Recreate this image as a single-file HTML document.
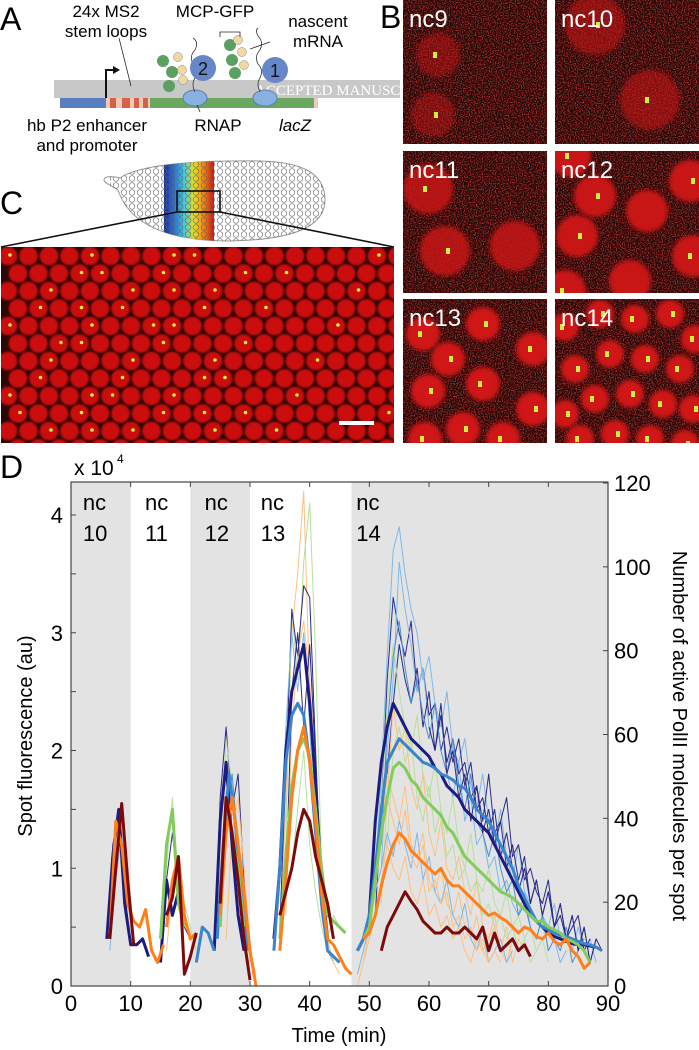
<!DOCTYPE html>
<html><head><meta charset="utf-8">
<style>
html,body{margin:0;padding:0;background:#fff;}
svg{display:block;font-family:"Liberation Sans",Arial,sans-serif;}
</style></head>
<body>
<svg id="fig" width="699" height="1050" viewBox="0 0 699 1050" xmlns="http://www.w3.org/2000/svg">
<defs>
  <filter id="speck" x="0" y="0" width="1" height="1">
    <feTurbulence type="fractalNoise" baseFrequency="0.85" numOctaves="1" seed="4"/>
    <feColorMatrix type="matrix" values="0 0 0 0 0.8  0 0 0 0 0.05  0 0 0 0 0.05  4 0 0 0 -1.75"/>
  </filter>
  <filter id="blur2"><feGaussianBlur stdDeviation="2"/></filter>
  <filter id="blur1"><feGaussianBlur stdDeviation="1"/></filter>
  <linearGradient id="rainbow" x1="0" x2="1" y1="0" y2="0">
    <stop offset="0" stop-color="#1a2a9a"/><stop offset="0.2" stop-color="#2a70d0"/>
    <stop offset="0.4" stop-color="#40c8e0"/><stop offset="0.6" stop-color="#e8e020"/>
    <stop offset="0.8" stop-color="#f08010"/><stop offset="1" stop-color="#d01010"/>
  </linearGradient>
  <pattern id="circ" width="8" height="7" patternUnits="userSpaceOnUse">
    <circle cx="4" cy="3.5" r="2.8" fill="none" stroke="#666" stroke-width="0.6"/>
  </pattern>
  <clipPath id="embclip"><path d="M118,190 C112,186 104,183 104,180 C104,176 112,176 120,178 C140,164 200,160 260,161 C300,162 325,172 325,200 C325,228 290,240 230,241 C170,241 130,226 118,190 Z"/></clipPath>
  <clipPath id="cclip"><rect x="1" y="247" width="393" height="196"/></clipPath>
  <clipPath id="plotclip"><rect x="71" y="482" width="537" height="504"/></clipPath>
</defs>

<!-- ================= Panel A ================= -->
<g>
  <text x="0" y="30" font-size="32">A</text>
  <text x="106" y="17" font-size="17" text-anchor="middle">24x MS2</text>
  <text x="106" y="37" font-size="17" text-anchor="middle">stem loops</text>
  <text x="215" y="17" font-size="17" text-anchor="middle">MCP-GFP</text>
  <text x="318" y="27" font-size="17" text-anchor="middle">nascent</text>
  <text x="318" y="47" font-size="17" text-anchor="middle">mRNA</text>
  <rect x="54" y="80" width="346" height="18" fill="#c8c8c8"/>
  <text x="255" y="95" font-size="15" fill="#fff" font-family="Liberation Serif,serif">ACCEPTED MANUSC</text>
  <line x1="119" y1="38" x2="131" y2="86" stroke="#222" stroke-width="0.8"/>
  <line x1="250" y1="49" x2="270" y2="42" stroke="#222" stroke-width="0.8"/>
  <path d="M106,98 V70 H116" fill="none" stroke="#111" stroke-width="2"/>
  <path d="M113,66 L120,70 L113,74 Z" fill="#111"/>
  <rect x="60" y="98" width="46" height="10" fill="#5a7fc0"/>
  <rect x="106" y="98" width="44" height="10" fill="#f0c8b8"/>
  <rect x="110" y="98" width="6" height="10" fill="#d86048"/><rect x="122" y="98" width="8" height="10" fill="#d86048"/>
  <rect x="134" y="98" width="5" height="10" fill="#d86048"/><rect x="143" y="98" width="5" height="10" fill="#d86048"/>
  <rect x="150" y="98" width="164" height="10" fill="#6aa860"/>
  <rect x="314" y="98" width="4" height="10" fill="#f0c8b8"/>
  <ellipse cx="195" cy="98" rx="12" ry="8" fill="#8ab0e0" stroke="#5a7fb0"/>
  <ellipse cx="265" cy="98" rx="12" ry="8" fill="#8ab0e0" stroke="#5a7fb0"/>
  <path d="M195,92 q-4,-8 0,-14 q4,-8 -2,-14 q-4,-8 2,-14 q4,-8 -2,-12" fill="none" stroke="#333" stroke-width="0.8"/>
  <path d="M260,92 q-4,-8 0,-14 q4,-8 -2,-14 q-4,-8 2,-14 q4,-8 -2,-14 q-3,-6 0,-8" fill="none" stroke="#333" stroke-width="0.8"/>
  <g>
    <circle cx="163" cy="61" r="6" fill="#5aa060"/><circle cx="172" cy="72" r="6" fill="#5aa060"/><circle cx="169" cy="86" r="6" fill="#5aa060"/>
    <circle cx="178" cy="57" r="4.5" fill="#f0d8a0" stroke="#888" stroke-width="0.5"/><circle cx="182" cy="70" r="4.5" fill="#f0d8a0" stroke="#888" stroke-width="0.5"/><circle cx="183" cy="80" r="4.5" fill="#f0d8a0" stroke="#888" stroke-width="0.5"/>
  </g>
  <g>
    <circle cx="230" cy="45" r="6" fill="#5aa060"/><circle cx="232" cy="60" r="6" fill="#5aa060"/><circle cx="235" cy="73" r="6" fill="#5aa060"/>
    <circle cx="238" cy="40" r="4.5" fill="#f0d8a0" stroke="#888" stroke-width="0.5"/><circle cx="242" cy="52" r="4.5" fill="#f0d8a0" stroke="#888" stroke-width="0.5"/><circle cx="244" cy="65" r="4.5" fill="#f0d8a0" stroke="#888" stroke-width="0.5"/>
  </g>
  <path d="M220,37 v-5 h20 v5" fill="none" stroke="#222" stroke-width="0.8"/>
  <circle cx="203" cy="68" r="13" fill="#6688c8"/>
  <text x="203" y="75" font-size="18" text-anchor="middle" fill="#111">2</text>
  <circle cx="275" cy="70" r="13" fill="#6688c8"/>
  <text x="275" y="77" font-size="18" text-anchor="middle" fill="#111">1</text>
  <line x1="197" y1="105" x2="200" y2="112" stroke="#222" stroke-width="0.8"/>
  <text x="87" y="131" font-size="17" text-anchor="middle">hb P2 enhancer</text>
  <text x="87" y="151" font-size="17" text-anchor="middle">and promoter</text>
  <text x="218" y="131" font-size="17" text-anchor="middle">RNAP</text>
  <text x="295" y="131" font-size="17" text-anchor="middle" font-style="italic">lacZ</text>
</g>

<!-- ================= Panel B ================= -->
<text x="380" y="28" font-size="32">B</text>
<g id="panelB"></g>

<!-- ================= Panel C ================= -->
<g>
  <text x="0" y="214" font-size="32">C</text>
  <g>
    <path d="M118,190 C112,186 104,183 104,180 C104,176 112,176 120,178 C140,164 200,160 260,161 C300,162 325,172 325,200 C325,228 290,240 230,241 C170,241 130,226 118,190 Z" fill="#fff" stroke="#999" stroke-width="1"/>
    <g clip-path="url(#embclip)">
      <rect x="164" y="160" width="50" height="85" fill="url(#rainbow)"/>
      <rect x="110" y="160" width="220" height="85" fill="url(#circ)"/>
    </g>
    <rect x="177" y="191" width="43" height="21" fill="none" stroke="#111" stroke-width="1.6"/>
    <line x1="177" y1="212" x2="1" y2="247" stroke="#111" stroke-width="1.6"/>
    <line x1="220" y1="212" x2="394" y2="247" stroke="#111" stroke-width="1.6"/>
  </g>
  <rect x="1" y="247" width="393" height="196" fill="#2a0806"/>
  <g id="cnuclei" clip-path="url(#cclip)"></g>
  <rect x="339" y="421" width="35" height="4" fill="#fff"/>
</g>

<!-- ================= Panel D ================= -->
<g id="panelD">
  <text x="0" y="478" font-size="32">D</text>
  <text x="74" y="475" font-size="21">x 10</text>
  <text x="117" y="463" font-size="12">4</text>
  <g id="bands"></g>
  <g id="series" clip-path="url(#plotclip)"></g>
  <g id="axes"></g>
  <text transform="translate(32,736) rotate(-90)" font-size="20" text-anchor="middle">Spot fluorescence (au)</text>
  <text transform="translate(673,736) rotate(90)" font-size="20" text-anchor="middle">Number of active PolII molecules per spot</text>
  <text x="339" y="1042" font-size="20" text-anchor="middle">Time (min)</text>
</g>
</svg>

<script>
// ---------------- Chart D data ----------------
const cycleBands = [[0,10],[20,30],[47,90]];
const cycleLabels = ["10","11","12","13","14"];
const cycleLabelTimes = [2,12.4,22.4,31.8,47.8];
const yTicks = [0,1,2,3,4];
const yMinorTicks = [0.5,1.5,2.5,3.5];
const y2Ticks = [0,20,40,60,80,100,120];
const xTicks = [0,10,20,30,40,50,60,70,80,90];

const navySegs = [
 [6,[0.4,1.1,1.5,0.7,0.35,0.35,0.4,0.25]],
 [15,[0.2,0.9,0.6,0.8]],
 [24,[0.3,1.4,1.9,1.2,0.6,0.3]],
 [34,[0.4,1.0,2.0,2.5,2.7,2.9,2.4,1.7,0.9,0.4]],
 [48,[0.3,0.4,0.6,1.4,1.9,2.2,2.4,2.3,2.2,2.1,2.05,2.0,1.95,1.85,1.8,1.7,1.65,1.6,1.5,1.45,1.4,1.35,1.3,1.2,1.1,1.0,0.9,0.8,0.7,0.6,0.55,0.5,0.45,0.42,0.4,0.38,0.36,0.35,0.35,0.34,0.33]]
];
const blueSegs = [
 [21,[0.2,0.5,0.45,0.3]],
 [24.5,[0.4,1.2,1.8,1.4,0.8,0.3]],
 [34,[0.3,1.0,1.9,2.3,2.4,2.3,1.9,1.3,0.7,0.3,0.25,0.2]],
 [48,[0.3,0.4,0.6,1.0,1.5,1.9,2.0,2.1,2.05,2.0,1.95,1.9,1.88,1.85,1.8,1.78,1.75,1.7,1.68,1.6,1.5,1.45,1.4,1.3,1.2,1.1,1.0,0.85,0.75,0.65,0.55,0.5,0.48,0.45,0.43,0.42,0.4,0.38,0.36,0.35,0.33,0.3]]
];
const greenSegs = [
 [15,[0.4,1.2,1.5,0.7,0.5]],
 [25,[0.5,1.6,1.3,1.0,0.5]],
 [35,[0.4,1.1,1.7,2.0,2.1,1.95,1.5,1.0,0.6,0.55,0.5,0.45]],
 [49,[0.4,0.5,0.9,1.3,1.6,1.85,1.9,1.85,1.75,1.7,1.6,1.55,1.5,1.45,1.35,1.3,1.2,1.1,1.05,1.0,0.95,0.9,0.85,0.8,0.78,0.75,0.7,0.65,0.6,0.55,0.55,0.5,0.48,0.45,0.4,0.38,0.35,0.3,0.2]]
];
const orangeSegs = [
 [6.5,[0.4,1.4,1.2,0.7,0.55,0.5,0.65,0.3,0.2,0.35]],
 [16,[0.5,0.9,1.1,0.6,0.4,0.45]],
 [25,[0.6,1.3,1.6,1.2,0.8,0.3,0.0]],
 [35,[0.3,0.9,1.6,2.0,2.2,1.9,1.4,0.8,0.4,0.35,0.25,0.15,0.1]],
 [49,[0.4,0.45,0.6,0.85,1.05,1.2,1.3,1.25,1.15,1.1,1.05,1.0,0.95,1.0,0.9,0.85,0.85,0.8,0.75,0.7,0.65,0.6,0.62,0.58,0.55,0.5,0.45,0.5,0.48,0.42,0.4,0.45,0.38,0.35,0.4,0.3,0.25,0.15,0.2]]
];
const redSegs = [
 [6.5,[0.4,1.0,1.55,0.9,0.35]],
 [16,[0.6,0.75,1.1,0.1,0.25,0.45]],
 [25,[0.7,1.6,1.3,0.9,0.4,0.05]],
 [35,[0.6,0.8,1.0,1.3,1.5,1.4,1.1,0.9,0.7,0.4]],
 [52,[0.3,0.5,0.6,0.7,0.8,0.72,0.65,0.55,0.5,0.45,0.45,0.5,0.45,0.45,0.5,0.45,0.4,0.5,0.3,0.45,0.3,0.35,0.4,0.3,0.35,0.25]]
];

const thinColors = ["#7fb8e8","#2a2a88","#b6e09c","#ffbf80","#4a8ed0"];
const thinTraceColor = [0,1,0,1,2,3,3,3,4,2,1,0,3, 3,2,1,0,3,1,2, 1,2,4,3, 2,1,3, 1,0];
const thinTraceStart = [50,51,52,53,51,50,49,52,52,53,60,48,48, 35,35,35,34,36,36,37, 24,24,25,26, 15,15,16, 6,6.5];
const thinTraceValues = [
 [0.4,0.9,1.8,2.8,3.7,3.9,3.5,3.2,3.0,2.6,2.8,2.4,2.2,2.5,2.0,1.9,2.1,1.7,1.5,1.8,1.4,1.2,1.5,1.1,0.9,1.2,0.8,0.7,0.9,0.6,0.5,0.7,0.4,0.5,0.3,0.5,0.3,0.4,0.2],
 [0.6,1.5,2.6,3.3,3.0,2.8,3.1,2.5,2.7,2.3,2.4,2.0,2.2,1.9,2.1,1.7,1.9,1.5,1.6,1.3,1.5,1.1,1.3,1.0,0.8,1.0,0.7,0.9,0.6,0.8,0.5,0.6,0.4,0.5,0.6,0.3,0.4],
 [1.0,2.0,2.6,3.6,3.2,2.9,2.5,2.7,2.2,2.0,2.3,1.8,1.6,1.9,1.4,1.6,1.2,1.3,1.0,1.1,0.8,0.9,0.7,0.6,0.8,0.5,0.4,0.6,0.3,0.4,0.2,0.3],
 [1.8,2.4,2.9,2.6,2.4,2.7,2.2,2.5,2.0,2.3,1.9,2.1,1.8,1.9,1.6,1.7,1.4,1.8,1.3,1.4,1.6,1.1,1.2,0.9,1.0,0.8,0.7,0.9,0.5,0.7,0.4,0.6,0.3,0.5,0.2,0.4],
 [0.8,1.5,2.4,2.9,2.5,2.2,2.0,2.3,1.8,1.6,1.9,1.5,1.3,1.6,1.2,1.0,1.3,0.9,0.8,1.0,0.7,0.6,0.8,0.5,0.6,0.4,0.5,0.3,0.4,0.2],
 [0.5,0.8,1.3,1.8,1.6,1.4,1.7,1.2,1.1,1.3,0.9,0.8,1.0,0.7,0.6,0.8,0.5,0.4,0.6,0.3,0.4,0.5,0.3,0.2,0.4],
 [0.2,0.4,0.6,0.9,1.2,1.0,0.9,1.1,0.8,0.7,0.9,0.6,0.7,0.5,0.6,0.4,0.5,0.3,0.2,0.4,0.3,0.2,0.3],
 [0.7,1.6,2.4,2.0,2.2,1.7,1.5,1.8,1.3,1.1,1.4,1.0,0.9,1.1,0.8,0.6,0.9,0.5,0.4,0.6,0.3,0.5,0.2,0.4,0.3],
 [1.2,2.2,2.8,3.1,2.7,2.4,2.6,2.3,2.1,2.4,2.0,1.8,2.1,1.7,1.5,1.8,1.4,1.3,1.1,1.3,1.0,0.8,0.9,0.6,0.7,0.5,0.4,0.6,0.3,0.4,0.3,0.5,0.2,0.3,0.4],
 [1.2,2.0,2.2,1.9,2.1,1.6,1.4,1.7,1.3,1.5,1.1,1.2,0.9,1.0,0.8,0.9,0.6,0.7,0.5,0.6,0.4,0.5,0.3,0.4,0.2,0.3],
 [2.2,2.0,2.4,1.8,2.0,1.6,1.8,1.4,1.7,1.3,1.5,1.2,1.4,1.0,1.2,0.9,1.1,0.7,0.9,0.6,0.8,0.5,0.7,0.4,0.6,0.3,0.5,0.2,0.4,0.3],
 [0.1,0.3,0.5,0.8,1.0,1.3,1.1,1.4,1.2,1.0,1.3,0.9,1.1,0.8,0.7,0.9,0.6,0.5,0.7,0.4,0.3,0.5,0.2,0.3,0.4,0.2,0.3],
 [0.0,0.2,0.5,0.9,1.3,1.6,1.4,1.2,1.5,1.1,1.0,1.2,0.8,0.9,0.7,0.8,0.5,0.6,0.4,0.5,0.3,0.4,0.2,0.3,0.2],
 [0.4,1.5,3.0,3.5,4.2,2.5,1.5,0.7,0.3],
 [0.5,1.2,3.2,2.6,3.6,4.1,2.8,1.0,0.4,0.6,0.5],
 [0.5,1.8,3.2,2.8,3.4,3.3,2.0,0.8,0.4],
 [0.3,0.9,2.2,3.0,2.5,3.0,2.2,1.2,0.6,0.3,0.2],
 [0.6,2.2,2.8,3.1,2.6,1.8,1.0,0.4,0.2,0.1],
 [0.8,2.5,3.0,2.2,2.9,1.9,0.9,0.4],
 [1.0,1.5,2.0,1.2,0.8,0.5,0.3],
 [0.3,1.6,2.2,1.5,1.8,0.9,0.3],
 [0.5,1.2,2.1,1.7,1.3,0.7,0.2],
 [0.6,1.4,1.8,1.2,0.8,0.3],
 [0.4,1.3,1.6,1.0,0.3,0.1],
 [0.4,1.0,1.6,0.9,0.7,0.5,0.3],
 [0.3,0.9,1.3,0.8,0.5,0.4],
 [0.3,0.8,1.0,0.6,0.4],
 [0.4,1.2,1.5,0.8,0.35],
 [0.3,0.9,1.3,0.7,0.4]
];

const NS = "http://www.w3.org/2000/svg";
const X0 = 71, X1 = 608, Y0 = 986, YT = 482;
function xs(t){ return X0 + (t/90)*(X1-X0); }
function ys(v){ return Y0 - v*117.75; }
function y2s(n){ return Y0 - n*(Y0-483)/120; }
function mk(tag, attrs, parent){ const e=document.createElementNS(NS,tag); for(const k in attrs) e.setAttribute(k,attrs[k]); parent.appendChild(e); return e; }

const bands = document.getElementById("bands");
const bg = mk("rect",{x:X0,y:YT,width:X1-X0,height:Y0-YT,fill:"#fff"},bands);


cycleBands.forEach((b,i)=>{
  const r = mk("rect",{x:xs(b[0]),y:YT,width:xs(b[1])-xs(b[0]),height:Y0-YT,fill:"#e3e3e3"},bands);
  
  
});
cycleLabels.forEach((l,i)=>{
  const t1 = mk("text",{x:xs(cycleLabelTimes[i]),y:510,"font-size":22},bands);
  t1.textContent="nc";
  
  
  const t2 = mk("text",{x:xs(cycleLabelTimes[i]),y:541,"font-size":22},bands);
  t2.textContent=l;
  
  
});

const series = document.getElementById("series");
function segPath(start, vals){
  return vals.map((v,i)=>(i?"L":"M")+xs(start+i).toFixed(1)+","+ys(v).toFixed(1)).join("");
}
thinTraceValues.forEach((vals,i)=>{
  const p = mk("path",{d:segPath(thinTraceStart[i],vals),fill:"none",stroke:thinColors[thinTraceColor[i]],"stroke-width":1,"stroke-linejoin":"round"},series);
  
  
});
const thick = [["navy",navySegs,"#1c1c80"],["blue",blueSegs,"#3a84cc"],["green",greenSegs,"#82cc5c"],["orange",orangeSegs,"#ff7f1a"],["darkred",redSegs,"#7d0a0a"]];
thick.forEach(([nm,segs,col])=>{
  segs.forEach(s=>{
    const p = mk("path",{d:segPath(s[0],s[1]),fill:"none",stroke:col,"stroke-width":3,"stroke-linejoin":"round"},series);
    
    
  });
});

const axes = document.getElementById("axes");
const frame = mk("rect",{x:X0,y:YT,width:X1-X0,height:Y0-YT,fill:"none",stroke:"#444","stroke-width":1.2},axes);


yTicks.forEach(v=>{
  mk("line",{x1:X0,x2:X0+5,y1:ys(v),y2:ys(v),stroke:"#444"},axes);
  const t = mk("text",{x:X0-8,y:ys(v)+8,"font-size":22,"text-anchor":"end"},axes);
  t.textContent=v;
  
  
});
yMinorTicks.forEach(v=>{ mk("line",{x1:X0,x2:X0+5,y1:ys(v),y2:ys(v),stroke:"#444"},axes); });
y2Ticks.forEach(n=>{
  mk("line",{x1:X1-5,x2:X1,y1:y2s(n),y2:y2s(n),stroke:"#444"},axes);
  const t = mk("text",{x:X1+6,y:y2s(n)+8,"font-size":22},axes);
  t.textContent=n;
  
  
});
xTicks.forEach(v=>{
  mk("line",{x1:xs(v),x2:xs(v),y1:Y0,y2:Y0-5,stroke:"#444"},axes);
  mk("line",{x1:xs(v),x2:xs(v),y1:YT,y2:YT+5,stroke:"#444"},axes);
  const t = mk("text",{x:xs(v),y:Y0+25,"font-size":22,"text-anchor":"middle"},axes);
  t.textContent=v;
  
  
});

// ---------------- Panel B tiles ----------------
const tiles = [
 {n:"nc9",x:403,y:0,w:144,h:144,r:22,o:0.45,nuc:[[35,55],[30,115]]},
 {n:"nc10",x:555,y:0,w:144,h:144,r:30,o:0.55,nuc:[[95,100],[40,25]]},
 {n:"nc11",x:403,y:151,w:144,h:142,r:25,o:0.8,nuc:[[25,38],[42,100],[112,95]]},
 {n:"nc12",x:555,y:151,w:144,h:142,r:21,o:0.95,nuc:[[15,5],[22,85],[92,60],[135,30],[138,105],[75,130],[10,140],[40,45]]},
 {n:"nc13",x:403,y:299,w:144,h:144,r:17,o:1,nuc:[[20,35],[80,25],[130,50],[25,92],[80,85],[130,110],[22,140],[60,130],[100,140],[45,60]]},
 {n:"nc14",x:555,y:299,w:144,h:144,r:14,o:1,nuc:[[10,28],[45,15],[80,20],[115,15],[140,40],[20,70],[55,55],[90,60],[125,70],[10,115],[40,100],[75,95],[108,105],[138,110],[25,140],[60,135],[95,140],[130,145]]}
];
const pb = document.getElementById("panelB");
tiles.forEach((t,i)=>{
  const g = mk("g",{},pb);
  
  
  const cp = mk("clipPath",{id:"tc"+i},g); mk("rect",{x:t.x,y:t.y,width:t.w,height:t.h},cp);
  const inner = mk("g",{"clip-path":"url(#tc"+i+")"},g);
  mk("rect",{x:t.x,y:t.y,width:t.w,height:t.h,fill:"#1c0604"},inner);
  mk("rect",{x:t.x,y:t.y,width:t.w,height:t.h,fill:"#000",filter:"url(#speck)",opacity:0.7},inner);
  t.nuc.forEach((c,k)=>{
    mk("circle",{cx:t.x+c[0],cy:t.y+c[1],r:t.r,fill:"#d01212",opacity:t.o,filter:"url(#blur2)"},inner);
    if(k%3!==2 || i>3) mk("rect",{x:t.x+c[0]-2+(k%2?3:-3),y:t.y+c[1]-3,width:4,height:6,fill:"#c8f040"},inner);
  });
  const lbl = mk("text",{x:t.x+6,y:t.y+27,"font-size":24,fill:"#fff"},g);
  lbl.textContent=t.n;
  
  
});

// ---------------- Panel C nuclei ----------------
const cn = document.getElementById("cnuclei");
for(let r=0;r<12;r++){
  for(let c=0;c<20;c++){
    const cx = 8 + c*20.5 + (r%2?10:0);
    const cy = 256 + r*17.5;
    mk("circle",{cx:cx,cy:cy,r:9.3,fill:"#cc1010",filter:"url(#blur1)"},cn);
    if(((r*7+c*3)%4===0 && c<12) || (r*5+c)%9===0){
      mk("circle",{cx:cx+2,cy:cy-1,r:1.8,fill:"#d8f040"},cn);
    }
  }
}
</script>
</body></html>
